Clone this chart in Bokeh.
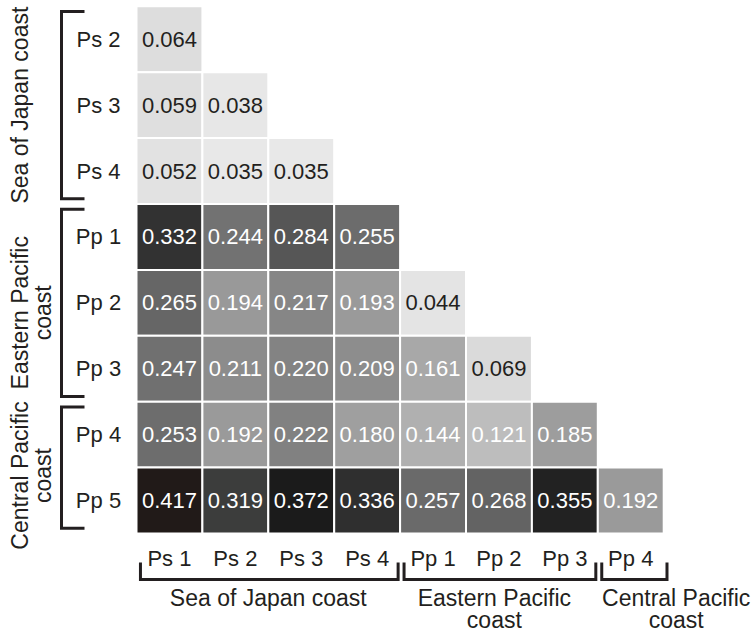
import numpy as np
from bokeh.plotting import figure
from bokeh.models import ColumnDataSource, LinearColorMapper
from bokeh.core.properties import value
from bokeh.embed import file_html
from bokeh.resources import INLINE

# ---------------- data ----------------
row_labels = ["Ps 2", "Ps 3", "Ps 4", "Pp 1", "Pp 2", "Pp 3", "Pp 4", "Pp 5"]
col_labels = ["Ps 1", "Ps 2", "Ps 3", "Ps 4", "Pp 1", "Pp 2", "Pp 3", "Pp 4"]
row_ps2 = [0.064]
row_ps3 = [0.059, 0.038]
row_ps4 = [0.052, 0.035, 0.035]
row_pp1 = [0.332, 0.244, 0.284, 0.255]
row_pp2 = [0.265, 0.194, 0.217, 0.193, 0.044]
row_pp3 = [0.247, 0.211, 0.220, 0.209, 0.161, 0.069]
row_pp4 = [0.253, 0.192, 0.222, 0.180, 0.144, 0.121, 0.185]
row_pp5 = [0.417, 0.319, 0.372, 0.336, 0.257, 0.268, 0.355, 0.192]
rows = [row_ps2, row_ps3, row_ps4, row_pp1, row_pp2, row_pp3, row_pp4, row_pp5]

row_group_names = ["Sea of Japan coast", "Eastern Pacific\ncoast", "Central Pacific\ncoast"]
row_group_sizes = [3, 3, 2]
col_group_names = ["Sea of Japan coast", "Eastern Pacific\ncoast", "Central Pacific\ncoast"]
col_group_sizes = [4, 3, 1]

# ---------------- style ----------------
FONT = value("Liberation Sans")
FS = "22px"
FS_GROUP = "23px"
INK = "#231f20"
W, H = 752, 635
UNIT = 65.9      # px per cell
X0_PX = 136      # left edge of first column
Y0_PX = 533      # bottom edge of last row

# grey ramp anchors (value -> rgb)
ramp_v = [0.035, 0.064, 0.121, 0.144, 0.161, 0.192, 0.209, 0.220, 0.244, 0.265, 0.284, 0.319, 0.336, 0.355, 0.372, 0.417]
ramp_r = [232, 221, 189, 176, 168, 154, 141, 131, 114, 102, 86, 60, 47, 34, 27, 33]
ramp_g = [232, 221, 189, 176, 168, 154, 141, 131, 114, 102, 86, 61, 47, 34, 27, 26]
ramp_b = [232, 221, 189, 176, 168, 154, 141, 131, 114, 102, 86, 60, 47, 34, 27, 24]
LOW, HIGH, N = 0.03, 0.42, 256
centers = LOW + (np.arange(N) + 0.5) * (HIGH - LOW) / N
palette = ["#%02x%02x%02x" % (int(round(np.interp(c, ramp_v, ramp_r))),
                              int(round(np.interp(c, ramp_v, ramp_g))),
                              int(round(np.interp(c, ramp_v, ramp_b)))) for c in centers]
mapper = LinearColorMapper(palette=palette, low=LOW, high=HIGH)

# ---------------- figure ----------------
x_lo = -X0_PX / UNIT
x_hi = (W - X0_PX) / UNIT
y_lo = (Y0_PX - H) / UNIT
y_hi = Y0_PX / UNIT

p = figure(width=W, height=H, x_range=(x_lo, x_hi), y_range=(y_lo, y_hi),
           output_backend="svg", toolbar_location=None,
           x_axis_location=None, y_axis_location=None, min_border=0)
p.grid.visible = False
p.outline_line_color = None
p.background_fill_color = "white"
p.border_fill_color = "white"

def px_x(px):
    return (px - X0_PX) / UNIT

def px_y(py):
    return (Y0_PX - py) / UNIT

nrows = len(rows)
xs, ys, vs, txt, tc = [], [], [], [], []
for r, vals in enumerate(rows):
    for c, v in enumerate(vals):
        xs.append(c + 0.5)
        ys.append(nrows - r - 0.5)
        vs.append(v)
        txt.append("%.3f" % v)
        tc.append(INK if v < 0.1 else "white")
src = ColumnDataSource(dict(x=xs, y=ys, v=vs, t=txt, tc=tc))

p.rect(x="x", y="y", width=1, height=1, source=src,
       fill_color={"field": "v", "transform": mapper},
       line_color="white", line_width=2)
p.text(x="x", y="y", text="t", source=src, text_color="tc",
       text_font=FONT, text_font_size=FS, text_align="center", text_baseline="middle")

# row labels
p.text(x=[px_x(98)] * nrows, y=[nrows - r - 0.5 for r in range(nrows)], text=row_labels,
       text_font=FONT, text_font_size=FS, text_color=INK,
       text_align="center", text_baseline="middle")

# column labels
ncols = len(col_labels)
p.text(x=[c + 0.5 for c in range(ncols)], y=[px_y(558)] * ncols, text=col_labels,
       text_font=FONT, text_font_size=FS, text_color=INK,
       text_align="center", text_baseline="middle")

# left brackets + group labels
bx, bt = px_x(61), px_x(84)
inset = 0.08
row_label_shift = [0.0, -0.15, -0.12]
mxs, mys, gy = [], [], []
top = nrows
for i, size in enumerate(row_group_sizes):
    y1, y2 = top - inset, top - size + inset
    mxs.append([bt, bx, bx, bt])
    mys.append([y1, y1, y2, y2])
    gy.append(top - size / 2 + row_label_shift[i])
    top -= size
p.multi_line(xs=mxs, ys=mys, line_color=INK, line_width=3, line_join="miter")
p.text(x=[px_x(6)] * len(gy), y=gy, text=row_group_names, angle=np.pi / 2,
       text_font=FONT, text_font_size=FS_GROUP, text_color=INK, text_line_height=0.92,
       text_align="center", text_baseline="top")

# bottom brackets + group labels
by, btop = px_y(579), px_y(562)
label_shift = [0.0, -0.07, 0.69]
mxs, mys, gx = [], [], []
left = 0
for i, size in enumerate(col_group_sizes):
    x1, x2 = left + 0.06, left + size - 0.03 + (0.08 if i == 2 else 0)
    mxs.append([x1, x1, x2, x2])
    mys.append([btop, by, by, btop])
    gx.append(left + size / 2 + label_shift[i])
    left += size
p.multi_line(xs=mxs, ys=mys, line_color=INK, line_width=3, line_join="miter")
p.text(x=gx, y=[px_y(584)] * len(gx), text=col_group_names,
       text_font=FONT, text_font_size=FS_GROUP, text_color=INK, text_line_height=0.86,
       text_align="center", text_baseline="top")

open("out.html", "w").write(file_html(p, INLINE))
